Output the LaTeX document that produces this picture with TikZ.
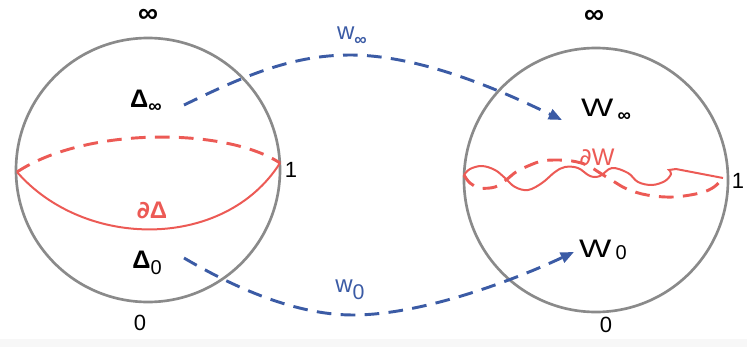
\documentclass[tikz,border=0pt]{standalone}
\usepackage{fontspec}
\setmainfont{Liberation Sans}
\newfontfamily\dvsans{DejaVu Sans}
\usetikzlibrary{arrows.meta}
\definecolor{cgray}{HTML}{8A8A8A}
\definecolor{cred}{HTML}{EC5A55}
\definecolor{cblue}{HTML}{3B5BA5}
\tikzset{
  sphere/.style={draw=cgray, line width=2pt, circle, minimum size=198pt, inner sep=0pt},
  lbl/.style={font=\fontsize{16.5}{17}\selectfont, inner sep=0pt},
  inflbl/.style={font=\fontsize{21}{22}\selectfont\bfseries, inner sep=0pt},
  ptlbl/.style={font=\fontsize{19}{20}\selectfont, inner sep=0pt},
  maplbl/.style={font=\fontsize{18}{19}\selectfont, text=cblue, inner sep=0pt},
  bndlbl/.style={font=\fontsize{18}{19}\selectfont, text=cred, inner sep=0pt},
  maparrow/.style={draw=cblue, line width=2.2pt, dash pattern=on 11pt off 7pt, -{Triangle[length=10pt,width=8pt]}},
  redsolid/.style={draw=cred, line width=1.5pt},
  reddash/.style={draw=cred, line width=2.2pt, dash pattern=on 11pt off 7pt}
}
\begin{document}
\begin{tikzpicture}[x=0.75pt,y=-0.75pt]
\useasboundingbox (0,0) rectangle (747,347);
\fill[gray!6] (0,339) rectangle (747,347);
% spheres
\node[sphere] (L) at (148,170) {};
\node[sphere] (R) at (596,180) {};
% pole labels
\node[inflbl] (Linf) at (148,16) {∞};
\node[lbl] (L0) at (140,323) {0};
\node[lbl] (L1) at (291,170) {1};
\node[inflbl] (Rinf) at (594,17) {∞};
\node[lbl] (R0) at (606,325) {0};
\node[lbl] (R1) at (738,181) {1};
% domain labels
\node[ptlbl, font=\fontsize{19}{20}\selectfont\bfseries] (dinf) at (146,101) {Δ\raisebox{-4pt}{\fontsize{14}{14}\selectfont∞}};
\node[ptlbl, font=\fontsize{19}{20}\selectfont\bfseries] (dzero) at (147,263) {Δ\raisebox{-5pt}{\fontsize{15}{15}\selectfont\mdseries 0}};
\node[bndlbl, font=\fontsize{18}{19}\selectfont\bfseries] (dd) at (152,210) {{\dvsans ∂}Δ};
\node[bndlbl] (dw) at (597,157) {{\dvsans ∂}W};
\node[ptlbl] (winf) at (606,110) {\scalebox{1.35}[1]{W}\,\raisebox{-4pt}{\fontsize{14}{14}\selectfont\bfseries ∞}};
\node[ptlbl] (wzero) at (603,250) {\scalebox{1.35}[1]{W}\,\raisebox{-2pt}{\fontsize{15}{15}\selectfont 0}};
% map labels
\node[maplbl] (minf) at (352,36) {w\raisebox{-4pt}{\fontsize{13}{13}\selectfont\bfseries ∞}};
\node[maplbl] (mzero) at (350,290) {w\raisebox{-5pt}{\fontsize{16}{16}\selectfont 0}};
% arrow endpoints
\coordinate (s1) at (184,105);
\coordinate (p1) at (350,55);
\coordinate (e1) at (562,120);
\coordinate (s2) at (184,258);
\coordinate (p2) at (353,315);
\coordinate (e2) at (574,252);
\draw[maparrow] (s1) .. controls (240,78) and (290,55) .. (p1)
  .. controls (420,55) and (500,90) .. (e1);
\draw[maparrow] (s2) .. controls (225,282) and (290,315) .. (p2)
  .. controls (420,315) and (510,282) .. (e2);
% left boundary
\coordinate (la) at (17,172);
\coordinate (lb) at (280,163);
\draw[reddash] (la) .. controls (85,127) and (225,127) .. (lb);
\draw[redsolid] (la) .. controls (85,250) and (225,250) .. (lb);
% right boundary
\draw[redsolid] plot[smooth, tension=0.6] coordinates {(464,175) (470,169) (482,166) (495,170) (505,178) (515,187) (528,190) (542,183) (555,172) (565,167) (578,168) (590,176) (600,176) (612,168) (628,173) (638,182) (652,185) (665,181) (671,174) (669,170)} -- (676,169) -- (723,178);
\draw[reddash] plot[smooth, tension=0.6] coordinates {(464,175) (470,183) (480,188) (495,187) (506,180) (516,172) (528,166) (542,161) (557,160) (572,161) (587,165) (600,173) (613,181) (627,189) (647,195) (673,197) (700,193) (714,187) (723,178)};
\end{tikzpicture}
\end{document}
